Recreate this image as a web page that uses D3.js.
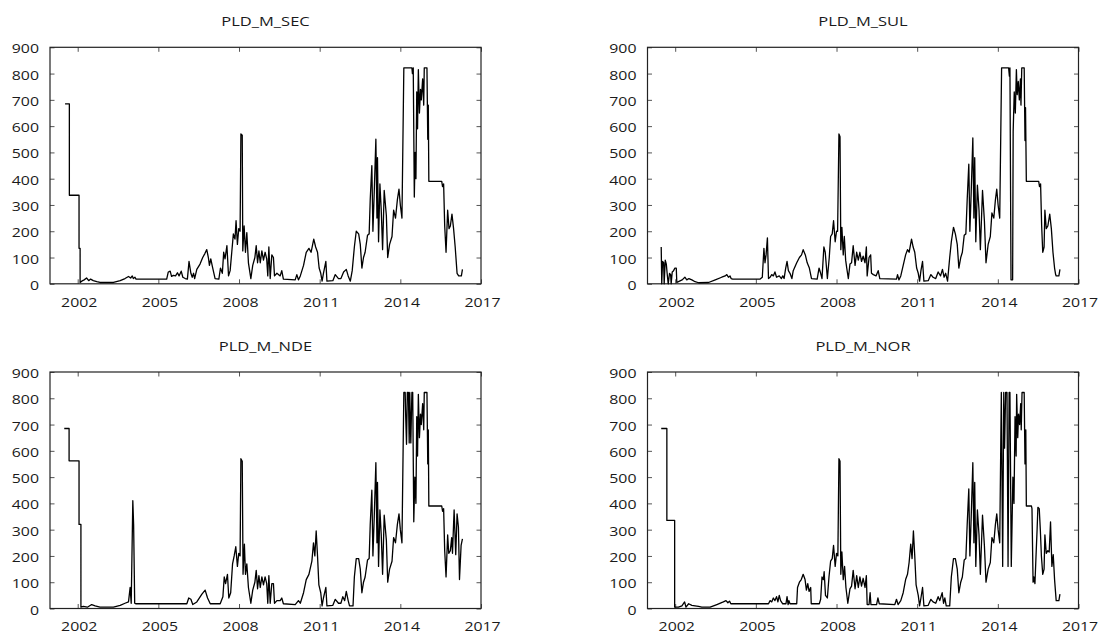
<!DOCTYPE html>
<html>
<head>
<meta charset="utf-8">
<script src="https://cdn.jsdelivr.net/npm/d3@7"></script>
<style>
body { margin: 0; background: #fff; }
svg { display: block; font-family: "Open Sans", sans-serif; }
</style>
</head>
<body>
<svg id="chart" width="1100" height="633"></svg>
<script>
/// PLD weekly prices, four submarkets ///

const panelTitles = ["PLD_M_SEC", "PLD_M_SUL", "PLD_M_NDE", "PLD_M_NOR"];
const xTickYears = [2002, 2005, 2008, 2011, 2014, 2017];
const yTickValues = [0, 100, 200, 300, 400, 500, 600, 700, 800, 900];

// [year, R$/MWh]
const pldSEC = [[2001.53,685],[2001.69,685],[2001.69,337],[2002.05,337],[2002.05,135],[2002.09,135],[2002.09,5],
[2002.15,10],[2002.24,15],[2002.33,22],[2002.41,12],[2002.48,18],[2002.58,12],[2002.71,8],[2002.83,5],[2003.33,5],
[2003.58,12],[2003.76,20],[2003.89,28],[2003.97,22],[2004.03,30],[2004.07,20],[2004.13,25],[2004.17,18],[2005.31,18],
[2005.37,45],[2005.44,48],[2005.49,28],[2005.56,32],[2005.64,30],[2005.71,42],[2005.77,30],[2005.85,48],[2005.91,25],
[2006.0,20],[2006.08,18],[2006.14,85],[2006.21,40],[2006.26,25],[2006.31,40],[2006.35,20],[2006.43,55],[2006.55,75],
[2006.65,100],[2006.73,115],[2006.80,130],[2006.86,100],[2006.90,70],[2006.95,95],[2007.01,65],[2007.11,20],[2007.25,18],
[2007.31,60],[2007.38,40],[2007.43,120],[2007.48,95],[2007.55,145],[2007.61,30],[2007.67,50],[2007.73,120],[2007.79,190],
[2007.85,170],[2007.89,240],[2007.94,150],[2007.99,210],[2008.04,200],[2008.07,570],[2008.12,565],[2008.14,125],[2008.19,220],
[2008.24,120],[2008.29,195],[2008.35,80],[2008.44,20],[2008.51,70],[2008.59,100],[2008.64,145],[2008.69,80],[2008.74,125],
[2008.79,80],[2008.85,125],[2008.91,90],[2008.97,120],[2009.03,95],[2009.07,30],[2009.11,140],[2009.16,20],[2009.22,110],
[2009.28,100],[2009.32,30],[2009.41,40],[2009.53,30],[2009.59,50],[2009.65,18],[2010.09,15],[2010.15,35],[2010.21,15],
[2010.28,30],[2010.40,70],[2010.50,120],[2010.60,135],[2010.68,120],[2010.78,170],[2010.85,140],[2010.92,120],[2010.98,60],
[2011.04,40],[2011.09,10],[2011.14,40],[2011.23,85],[2011.27,10],[2011.49,12],[2011.58,35],[2011.70,20],[2011.79,20],
[2011.89,45],[2011.99,55],[2012.06,30],[2012.14,10],[2012.21,50],[2012.29,140],[2012.36,200],[2012.45,190],[2012.51,150],
[2012.57,60],[2012.63,100],[2012.69,120],[2012.78,185],[2012.84,190],[2012.88,320],[2012.94,450],[2012.98,200],[2013.03,350],
[2013.09,550],[2013.13,250],[2013.15,480],[2013.19,160],[2013.24,380],[2013.29,280],[2013.34,130],[2013.40,355],[2013.48,260],
[2013.53,100],[2013.60,150],[2013.69,180],[2013.75,280],[2013.82,250],[2013.89,320],[2013.95,360],[2014.0,300],[2014.06,250],
[2014.13,822],[2014.43,822],[2014.45,800],[2014.48,822],[2014.52,330],[2014.55,500],[2014.58,400],[2014.61,730],[2014.64,590],
[2014.67,815],[2014.71,650],[2014.75,740],[2014.78,700],[2014.83,780],[2014.87,680],[2014.89,822],[2014.99,822],[2015.02,550],
[2015.04,680],[2015.06,390],[2015.54,390],[2015.57,370],[2015.61,380],[2015.65,220],[2015.70,120],[2015.76,280],[2015.81,210],
[2015.86,220],[2015.92,265],[2015.98,210],[2016.04,140],[2016.11,40],[2016.17,30],[2016.27,30],[2016.31,55]];

const pldSUL = [[2001.48,140],[2001.50,0],[2001.53,85],[2001.57,80],[2001.59,0],[2001.63,90],[2001.67,75],[2001.70,40],
[2001.74,0],[2001.79,40],[2001.83,35],[2001.85,0],[2001.89,45],[2001.94,50],[2001.99,60],[2002.04,60],[2002.06,5],
[2002.16,10],[2002.26,15],[2002.36,25],[2002.43,15],[2002.51,20],[2002.62,15],[2002.74,8],[2002.87,4],[2003.24,5],
[2003.49,15],[2003.73,25],[2003.86,30],[2003.92,35],[2003.98,25],[2004.04,30],[2004.08,20],[2004.14,18],[2005.16,18],
[2005.24,25],[2005.30,135],[2005.34,80],[2005.38,110],[2005.43,175],[2005.47,20],[2005.53,25],[2005.59,35],[2005.65,30],
[2005.71,45],[2005.77,25],[2005.87,30],[2005.95,20],[2006.0,30],[2006.05,20],[2006.11,60],[2006.16,85],[2006.21,50],
[2006.27,40],[2006.34,20],[2006.39,50],[2006.52,80],[2006.62,100],[2006.70,110],[2006.76,130],[2006.84,110],[2006.91,80],
[2006.99,60],[2007.07,20],[2007.28,18],[2007.35,60],[2007.41,40],[2007.46,20],[2007.53,140],[2007.58,120],[2007.66,20],
[2007.73,100],[2007.78,180],[2007.84,190],[2007.89,240],[2007.95,160],[2008.0,200],[2008.04,200],[2008.09,570],[2008.13,560],
[2008.16,130],[2008.20,215],[2008.25,110],[2008.29,180],[2008.34,90],[2008.38,60],[2008.44,20],[2008.50,75],[2008.56,80],
[2008.62,145],[2008.69,70],[2008.75,120],[2008.81,90],[2008.87,120],[2008.93,85],[2008.99,105],[2009.06,80],[2009.11,140],
[2009.14,30],[2009.21,100],[2009.27,110],[2009.30,40],[2009.37,35],[2009.47,30],[2009.55,50],[2009.61,20],[2010.23,18],
[2010.27,35],[2010.32,15],[2010.39,30],[2010.48,70],[2010.57,110],[2010.64,130],[2010.70,120],[2010.79,170],[2010.85,140],
[2010.91,120],[2010.98,60],[2011.04,40],[2011.09,10],[2011.14,50],[2011.20,85],[2011.25,10],[2011.41,12],[2011.51,35],
[2011.59,25],[2011.69,20],[2011.78,45],[2011.87,30],[2011.94,55],[2012.0,25],[2012.06,40],[2012.13,10],[2012.21,100],
[2012.27,160],[2012.35,215],[2012.42,190],[2012.49,150],[2012.55,60],[2012.62,100],[2012.68,120],[2012.75,185],[2012.81,190],
[2012.86,320],[2012.92,455],[2012.96,200],[2013.01,350],[2013.07,555],[2013.11,250],[2013.14,480],[2013.18,160],[2013.24,375],
[2013.30,280],[2013.35,130],[2013.43,355],[2013.50,240],[2013.56,80],[2013.64,150],[2013.72,180],[2013.78,270],[2013.85,250],
[2013.91,320],[2013.96,360],[2014.01,300],[2014.07,250],[2014.14,822],[2014.40,822],[2014.43,790],[2014.45,822],[2014.49,15],
[2014.55,15],[2014.57,580],[2014.61,730],[2014.65,650],[2014.69,815],[2014.72,720],[2014.76,770],[2014.80,700],[2014.84,780],
[2014.86,680],[2014.89,822],[2014.98,822],[2015.01,545],[2015.03,670],[2015.06,390],[2015.52,390],[2015.55,370],[2015.59,380],
[2015.63,220],[2015.67,120],[2015.72,140],[2015.75,280],[2015.80,210],[2015.86,220],[2015.93,265],[2015.99,210],[2016.05,120],
[2016.11,60],[2016.15,35],[2016.17,30],[2016.27,30],[2016.31,55]];

const pldNDE = [[2001.50,685],[2001.68,685],[2001.68,562],[2002.05,562],[2002.05,320],[2002.12,320],[2002.12,5],
[2002.21,8],[2002.36,5],[2002.52,15],[2002.65,10],[2002.83,5],[2003.33,5],[2003.58,12],[2003.76,20],[2003.89,25],
[2003.95,80],[2003.99,20],[2004.05,410],[2004.08,320],[2004.12,20],[2004.17,18],[2006.06,18],[2006.13,40],[2006.21,35],
[2006.28,15],[2006.43,25],[2006.62,55],[2006.74,70],[2006.83,40],[2006.93,18],[2007.30,18],[2007.40,45],[2007.45,120],
[2007.50,95],[2007.57,130],[2007.62,40],[2007.69,60],[2007.76,170],[2007.82,200],[2007.88,235],[2007.94,160],[2007.99,210],
[2008.04,200],[2008.07,570],[2008.12,560],[2008.15,130],[2008.20,245],[2008.24,130],[2008.29,170],[2008.35,80],[2008.44,20],
[2008.51,70],[2008.59,100],[2008.64,145],[2008.69,75],[2008.74,125],[2008.79,80],[2008.85,120],[2008.91,90],[2008.97,120],
[2009.03,95],[2009.07,20],[2009.11,125],[2009.16,20],[2009.22,95],[2009.28,95],[2009.32,20],[2009.41,30],[2009.53,30],
[2009.59,40],[2009.65,18],[2010.09,15],[2010.21,30],[2010.28,20],[2010.40,60],[2010.50,110],[2010.60,130],[2010.71,180],
[2010.77,250],[2010.82,200],[2010.87,295],[2010.92,200],[2010.97,90],[2011.04,60],[2011.09,10],[2011.14,40],[2011.23,80],
[2011.27,10],[2011.49,12],[2011.58,35],[2011.70,20],[2011.79,20],[2011.86,45],[2011.93,30],[2011.99,65],[2012.06,30],
[2012.11,10],[2012.24,10],[2012.29,120],[2012.36,190],[2012.45,190],[2012.51,150],[2012.57,60],[2012.63,100],[2012.69,120],
[2012.78,185],[2012.84,190],[2012.88,320],[2012.94,450],[2012.98,200],[2013.03,350],[2013.09,555],[2013.13,250],[2013.15,480],
[2013.19,160],[2013.24,375],[2013.29,280],[2013.34,130],[2013.40,355],[2013.48,260],[2013.53,100],[2013.60,150],[2013.69,180],
[2013.75,270],[2013.82,250],[2013.89,320],[2013.95,360],[2014.0,300],[2014.06,250],[2014.13,822],[2014.18,822],[2014.20,730],
[2014.23,625],[2014.26,822],[2014.30,822],[2014.33,630],[2014.35,822],[2014.39,630],[2014.43,822],[2014.46,822],[2014.50,330],
[2014.54,500],[2014.58,400],[2014.61,730],[2014.64,580],[2014.67,815],[2014.71,650],[2014.75,740],[2014.78,700],[2014.83,780],
[2014.87,680],[2014.89,822],[2014.99,822],[2015.02,550],[2015.04,680],[2015.06,390],[2015.54,390],[2015.57,370],[2015.61,380],
[2015.65,220],[2015.70,120],[2015.76,280],[2015.80,210],[2015.86,220],[2015.91,270],[2015.94,210],[2016.0,375],[2016.06,205],
[2016.11,360],[2016.16,310],[2016.20,110],[2016.26,240],[2016.31,265]];

const pldNOR = [[2001.48,685],[2001.69,685],[2001.69,335],[2001.98,335],[2001.98,5],[2002.12,5],[2002.25,10],[2002.35,25],
[2002.40,5],[2002.50,18],[2002.62,12],[2002.74,10],[2002.87,8],[2002.99,5],[2003.30,5],[2003.55,15],[2003.79,25],[2003.89,30],
[2003.96,22],[2004.02,28],[2004.07,18],[2005.47,18],[2005.53,30],[2005.59,25],[2005.65,40],[2005.71,30],[2005.77,45],
[2005.82,25],[2005.87,50],[2005.92,30],[2006.0,18],[2006.12,18],[2006.16,45],[2006.20,15],[2006.23,30],[2006.27,18],
[2006.52,18],[2006.55,80],[2006.62,100],[2006.69,110],[2006.76,130],[2006.83,110],[2006.88,70],[2006.93,95],[2006.98,65],
[2007.04,80],[2007.06,18],[2007.36,18],[2007.41,35],[2007.46,120],[2007.51,110],[2007.54,140],[2007.59,50],[2007.66,40],
[2007.72,120],[2007.78,180],[2007.84,190],[2007.89,240],[2007.95,160],[2008.0,210],[2008.05,200],[2008.09,570],[2008.13,560],
[2008.16,130],[2008.20,215],[2008.25,110],[2008.30,160],[2008.35,80],[2008.42,20],[2008.50,75],[2008.56,85],[2008.62,145],
[2008.69,75],[2008.75,125],[2008.81,80],[2008.87,120],[2008.93,85],[2008.99,115],[2009.06,80],[2009.11,125],[2009.14,15],
[2009.21,15],[2009.25,60],[2009.28,15],[2009.49,15],[2009.54,40],[2009.59,18],[2010.17,15],[2010.23,35],[2010.29,15],
[2010.39,30],[2010.48,60],[2010.57,110],[2010.64,130],[2010.70,175],[2010.76,245],[2010.81,190],[2010.86,295],[2010.91,200],
[2010.96,90],[2011.04,50],[2011.09,10],[2011.14,40],[2011.20,80],[2011.25,10],[2011.41,12],[2011.51,35],[2011.59,25],
[2011.69,20],[2011.78,45],[2011.84,30],[2011.93,60],[2011.98,20],[2012.03,40],[2012.08,10],[2012.21,10],[2012.27,120],
[2012.35,190],[2012.42,190],[2012.49,150],[2012.55,60],[2012.62,100],[2012.68,120],[2012.75,185],[2012.81,190],[2012.86,320],
[2012.92,455],[2012.96,200],[2013.01,350],[2013.07,555],[2013.11,250],[2013.14,480],[2013.18,160],[2013.24,375],[2013.30,280],
[2013.35,130],[2013.43,355],[2013.50,240],[2013.56,100],[2013.64,150],[2013.72,175],[2013.78,270],[2013.85,250],[2013.91,320],
[2013.96,360],[2014.01,300],[2014.07,250],[2014.13,822],[2014.18,160],[2014.22,822],[2014.25,610],[2014.29,822],[2014.34,822],
[2014.38,160],[2014.42,822],[2014.45,822],[2014.50,160],[2014.53,330],[2014.56,500],[2014.60,400],[2014.64,730],[2014.68,580],
[2014.70,815],[2014.74,650],[2014.77,740],[2014.81,700],[2014.85,780],[2014.87,680],[2014.90,822],[2014.98,822],[2015.01,550],
[2015.04,680],[2015.06,390],[2015.25,390],[2015.27,380],[2015.31,100],[2015.34,120],[2015.38,95],[2015.42,200],[2015.46,300],
[2015.49,385],[2015.54,380],[2015.58,300],[2015.62,200],[2015.67,130],[2015.72,150],[2015.75,280],[2015.80,210],[2015.86,220],
[2015.91,215],[2015.96,330],[2016.01,160],[2016.06,205],[2016.11,110],[2016.17,30],[2016.27,30],[2016.31,55]];

const panelData = [pldSEC, pldSUL, pldNDE, pldNOR];

// layout
const panelW = 431;
const panelH = 236.5;
const panelPos = [[50, 47.3], [647.5, 47.3], [50, 372], [647.5, 372]];
const labelDrop = [23.6, 23.6, 22.4, 22.4];
const textStretch = 1.27;

let svg = d3.select("#chart");
svg.append("rect").attr("width", 1100).attr("height", 633).attr("fill", "#fff");

function drawPanel(i) {
    let g = svg.append("g").attr("transform", `translate(${panelPos[i][0]},${panelPos[i][1]})`);
    let x = d3.scaleLinear().domain([2000.97, 2017]).range([0, panelW]);
    let y = d3.scaleLinear().domain([0, 900]).range([panelH, 0]);

    let xBottom = g.append("g").attr("transform", `translate(0,${panelH})`)
        .call(d3.axisBottom(x).tickValues(xTickYears).tickFormat(d3.format("d")).tickSize(-4.5));
    let xTop = g.append("g")
        .call(d3.axisTop(x).tickValues(xTickYears).tickFormat("").tickSize(-4.5));
    let yLeft = g.append("g")
        .call(d3.axisLeft(y).tickValues(yTickValues).tickFormat(d3.format("d")).tickSize(-4.5));
    let yRight = g.append("g").attr("transform", `translate(${panelW},0)`)
        .call(d3.axisRight(y).tickValues(yTickValues).tickFormat("").tickSize(-4.5));

    [xBottom, xTop, yLeft, yRight].forEach(a => {
        a.select(".domain").remove();
        a.selectAll(".tick line").attr("stroke", "#555").attr("stroke-width", 1);
    });

    xBottom.selectAll(".tick text")
        .attr("x", 0).attr("y", 0).attr("dy", null)
        .attr("transform", `translate(1,${labelDrop[i]}) scale(${textStretch},1)`)
        .attr("font-size", 12.5).attr("fill", "#1a1a1a").attr("font-family", "Open Sans");
    yLeft.selectAll(".tick text")
        .attr("x", 0).attr("y", 0).attr("dy", null)
        .attr("transform", `translate(-11,5.5) scale(${textStretch},1)`)
        .attr("font-size", 12.5).attr("fill", "#1a1a1a").attr("font-family", "Open Sans");

    g.append("rect")
        .attr("width", panelW).attr("height", panelH)
        .attr("fill", "none").attr("stroke", "#222").attr("stroke-width", 1.2);

    let line = d3.line().x(d => x(d[0])).y(d => y(d[1]));
    g.append("path").datum(panelData[i])
        .attr("d", line)
        .attr("fill", "none")
        .attr("stroke", "#000")
        .attr("stroke-width", 1.3)
        .attr("stroke-linejoin", "round");

    g.append("text")
        .attr("transform", `translate(${panelW / 2},-21) scale(${textStretch},1)`)
        .attr("text-anchor", "middle")
        .attr("font-size", 13)
        .attr("fill", "#1a1a1a")
        .text(panelTitles[i]);
}

for (let i = 0; i < 4; i++) drawPanel(i);
</script>
</body>
</html>
